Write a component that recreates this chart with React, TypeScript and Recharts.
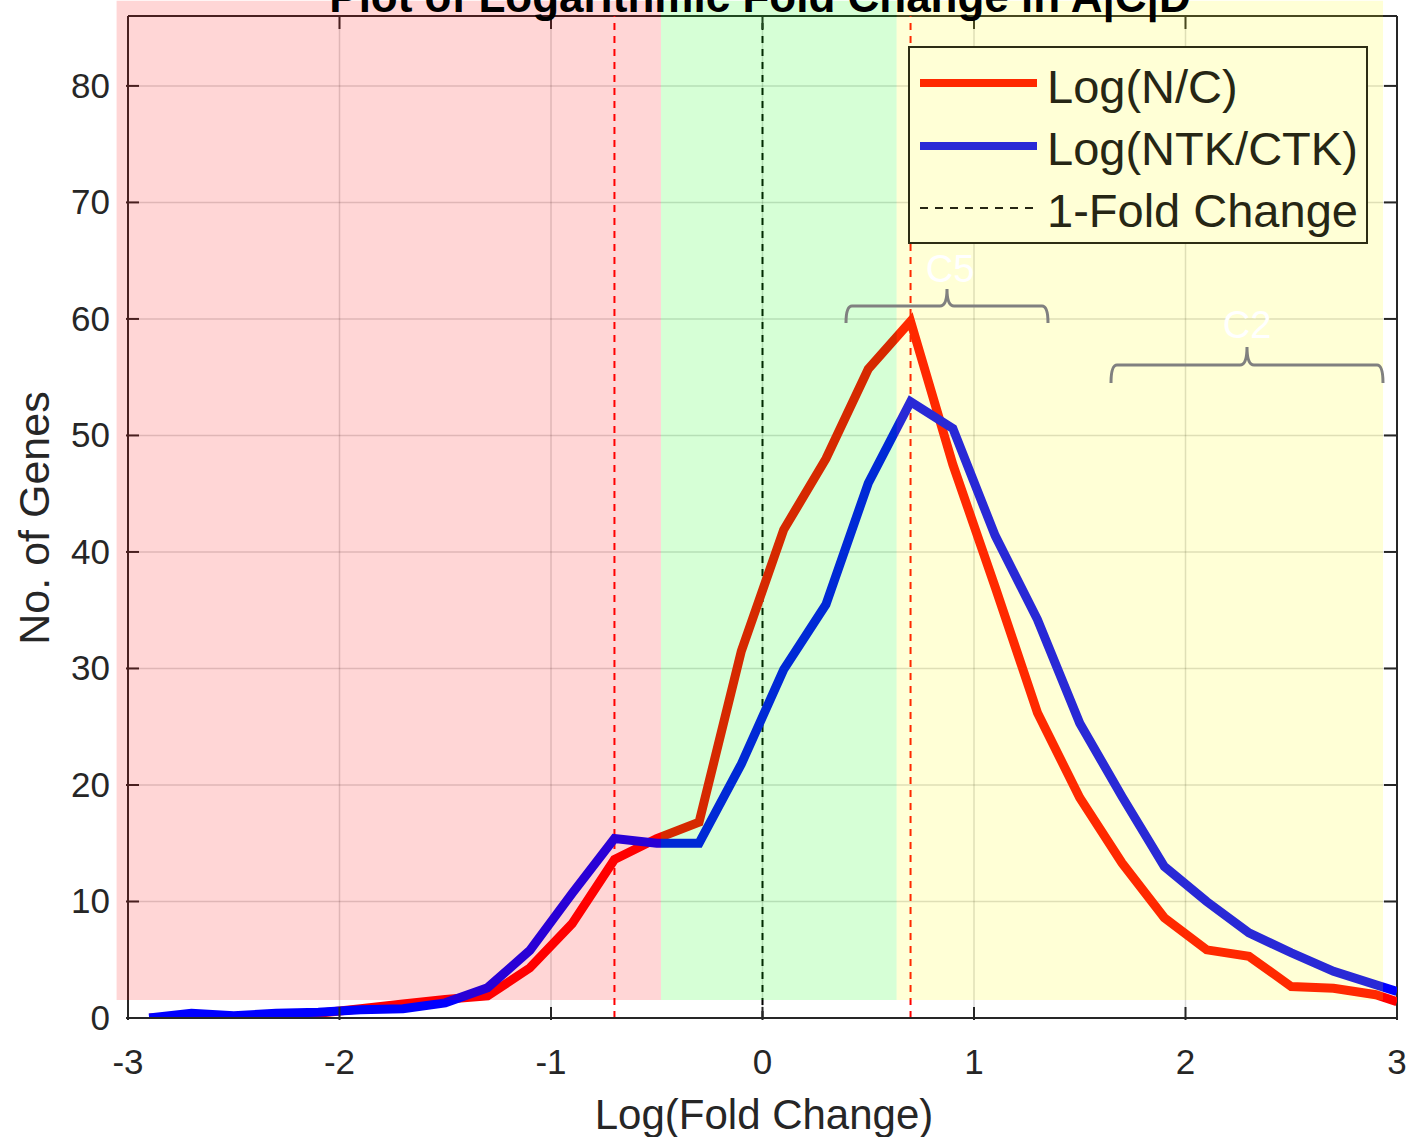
import React from "react";
import {
  LineChart,
  Line,
  XAxis,
  YAxis,
  CartesianGrid,
  ReferenceLine,
  ReferenceArea,
  Label,
  Legend,
} from "recharts";

const FONT = '"Liberation Sans", Arial, Helvetica, sans-serif';
const AXIS = "#262626";
const PLOT_TOP = 16;
const PLOT_RIGHT = 1397;

// bin centres of the log fold change histogram
const binCenters = [
  -2.9, -2.7, -2.5, -2.3, -2.1, -1.9, -1.7, -1.5, -1.3, -1.1, -0.9, -0.7, -0.5,
  -0.3, -0.1, 0.1, 0.3, 0.5, 0.7, 0.9, 1.1, 1.3, 1.5, 1.7, 1.9, 2.1, 2.3, 2.5,
  2.7, 2.9, 3.0,
];
const logNC = [
  0, 0, 0, 0.05, 0.4, 0.8, 1.2, 1.6, 1.9, 4.3, 8.1, 13.6, 15.4, 16.8, 31.5,
  41.9, 48, 55.7, 59.8, 47.5, 37, 26.2, 18.9, 13.3, 8.6, 5.85, 5.3, 2.7, 2.55,
  2.0, 1.4,
];
const logNTKCTK = [
  0, 0.4, 0.2, 0.4, 0.5, 0.7, 0.8, 1.3, 2.6, 5.8, 10.7, 15.4, 15.0, 15.0, 21.8,
  29.9, 35.5, 45.9, 52.9, 50.6, 41.4, 34.2, 25.3, 19.0, 13.0, 10.0, 7.3, 5.6,
  4.0, 2.85, 2.27,
];
const xTicks = [-3, -2, -1, 0, 1, 2, 3];
const yTicks = [0, 10, 20, 30, 40, 50, 60, 70, 80];
const foldLines = [-0.7, 0, 0.7];

const data = binCenters.map((x, i) => ({ x, nc: logNC[i], ntk: logNTKCTK[i] }));

// ticks point inward, mirrored on the right / top edge of the box
const LeftTick = ({ x, y, payload }: any) => (
  <g>
    <line x1={x} x2={x + 13} y1={y} y2={y} stroke={AXIS} strokeWidth={2} />
    <line x1={PLOT_RIGHT} x2={PLOT_RIGHT - 13} y1={y} y2={y} stroke={AXIS} strokeWidth={2} />
    <text x={x - 16} y={y + 12} textAnchor="end" fontSize={35} fill={AXIS} fontFamily={FONT}>
      {payload.value}
    </text>
  </g>
);

const BottomTick = ({ x, y, payload }: any) => (
  <g>
    <line x1={x} x2={x} y1={y} y2={y - 13} stroke={AXIS} strokeWidth={2} />
    <line x1={x} x2={x} y1={PLOT_TOP} y2={PLOT_TOP + 13} stroke={AXIS} strokeWidth={2} />
    <text x={x} y={y + 54} textAnchor="middle" fontSize={35} fill={AXIS} fontFamily={FONT}>
      {payload.value}
    </text>
  </g>
);

const renderLegend = () => (
  <svg width={460} height={198} style={{ display: "block" }}>
    <rect x={1} y={1} width={458} height={196} fill="#ffffd6" stroke="#2d2d14" strokeWidth={2} />
    <line x1={12} x2={129} y1={37} y2={37} stroke="#ff2900" strokeWidth={8} />
    <line x1={12} x2={129} y1={100} y2={100} stroke="#2929d6" strokeWidth={8} />
    <line x1={12} x2={129} y1={162} y2={162} stroke="#262614" strokeWidth={2} strokeDasharray="8 7" />
    <g fontFamily={FONT} fontSize={47} fill="#262614">
      <text x={139} y={57}>Log(N/C)</text>
      <text x={139} y={119}>Log(NTK/CTK)</text>
      <text x={139} y={181}>1-Fold Change</text>
    </g>
  </svg>
);

const App: React.FC = () => {
  return (
    <div style={{ position: "fixed", left: 0, top: 0, width: 1408, height: 1137, background: "#fff" }}>
      <LineChart
        width={1408}
        height={1137}
        data={data}
        margin={{ top: PLOT_TOP, right: 1408 - PLOT_RIGHT, left: 0, bottom: 0 }}
      >
        <CartesianGrid stroke="#000" strokeOpacity={0.15} strokeWidth={1.5} />
        <XAxis
          dataKey="x"
          type="number"
          domain={[-3, 3]}
          ticks={xTicks}
          allowDataOverflow
          height={119}
          tickSize={0}
          tickLine={false}
          tick={<BottomTick />}
          axisLine={{ stroke: AXIS, strokeWidth: 2 }}
        >
          <Label
            content={() => (
              <text x={764} y={1129} textAnchor="middle" fontSize={42} fill={AXIS} fontFamily={FONT}>
                Log(Fold Change)
              </text>
            )}
          />
        </XAxis>
        <YAxis
          type="number"
          domain={[0, 86]}
          ticks={yTicks}
          allowDataOverflow
          width={128}
          tickSize={0}
          tickLine={false}
          tick={<LeftTick />}
          axisLine={{ stroke: AXIS, strokeWidth: 2 }}
        >
          <Label
            content={() => (
              <text
                transform="translate(49,518) rotate(-90)"
                textAnchor="middle"
                fontSize={43}
                fill={AXIS}
                fontFamily={FONT}
              >
                No. of Genes
              </text>
            )}
          />
        </YAxis>
        {/* box frame: top and right edges */}
        <ReferenceLine y={86} stroke={AXIS} strokeWidth={2} />
        <ReferenceLine x={3} stroke={AXIS} strokeWidth={2} />
        {foldLines.map((v) => (
          <ReferenceLine
            key={v}
            x={v}
            stroke={v === 0 ? "#000" : "#ff0000"}
            strokeWidth={2}
            strokeDasharray="7 6"
          />
        ))}
        <Line
          dataKey="nc"
          stroke="#ff0000"
          strokeWidth={9}
          dot={false}
          isAnimationActive={false}
        />
        <Line
          dataKey="ntk"
          stroke="#0000ff"
          strokeWidth={9}
          dot={false}
          isAnimationActive={false}
        />
        <ReferenceArea x1={-3.054} x2={-0.48} y1={1.55} y2={87.3} ifOverflow="visible" fill="#ff0000" fillOpacity={0.16} stroke="none" zIndex={2000} />
        <ReferenceArea x1={-0.48} x2={0.634} y1={1.55} y2={87.3} ifOverflow="visible" fill="#00ff00" fillOpacity={0.16} stroke="none" zIndex={2000} />
        <ReferenceArea x1={0.634} x2={2.934} y1={1.55} y2={87.3} ifOverflow="visible" fill="#ffff00" fillOpacity={0.16} stroke="none" zIndex={2000} />
        <Legend
          layout="vertical"
          align="center"
          verticalAlign="middle"
          content={renderLegend}
          wrapperStyle={{ position: "absolute", left: 908, top: 46, width: 460, height: 198 }}
        />
      </LineChart>
      <svg
        width={1408}
        height={1137}
        style={{ position: "absolute", left: 0, top: 0, pointerEvents: "none" }}
      >
        <text x={760} y={12} textAnchor="middle" fontSize={44} fontWeight="bold" fill="#000" fontFamily={FONT}>
          Plot of Logarithmic Fold Change in A|C|D
        </text>
        <g fill="none" stroke="#808080" strokeWidth={3}>
          <path d="M846,323 Q846,306 852,306 L940,306 Q947,306 947,289 Q947,306 954,306 L1042,306 Q1048,306 1048,323" />
          <path d="M1111,383 Q1111,365 1117,365 L1240,365 Q1247,365 1247,347 Q1247,365 1254,365 L1377,365 Q1383,365 1383,383" />
        </g>
        <g fontFamily={FONT} fontSize={38} fill="#ffffff" textAnchor="middle">
          <text x={950} y={282}>C5</text>
          <text x={1247} y={338}>C2</text>
        </g>
      </svg>
    </div>
  );
};

export default App;
